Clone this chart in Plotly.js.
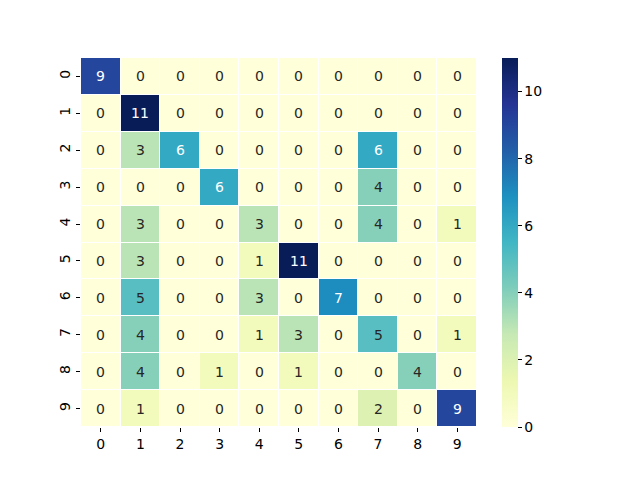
<!DOCTYPE html>
<html><head><meta charset="utf-8">
<script src="https://cdn.plot.ly/plotly-3.0.1.min.js"></script>
<style>html,body{margin:0;padding:0;background:#fff}</style>
</head><body>
<div id="chart" style="width:640px;height:480px"></div>
<script>
const labels = [0,1,2,3,4,5,6,7,8,9];
const matrix = [
  [9,0,0,0,0,0,0,0,0,0],
  [0,11,0,0,0,0,0,0,0,0],
  [0,3,6,0,0,0,0,6,0,0],
  [0,0,0,6,0,0,0,4,0,0],
  [0,3,0,0,3,0,0,4,0,1],
  [0,3,0,0,1,11,0,0,0,0],
  [0,5,0,0,3,0,7,0,0,0],
  [0,4,0,0,1,3,0,5,0,1],
  [0,4,0,1,0,1,0,0,4,0],
  [0,1,0,0,0,0,0,2,0,9]
];
const colorbarTicks = [0,2,4,6,8,10];

const ylgnbu = ['#ffffd9','#edf8b1','#c7e9b4','#7fcdbb','#41b6c4','#1d91c0','#225ea8','#253494','#081d58'];
const colorscale = ylgnbu.map((c,i)=>[i/(ylgnbu.length-1), c]);
const zmax = 11;

const annotations = [];
matrix.forEach((row,i)=>row.forEach((v,j)=>{
  annotations.push({x:labels[j], y:labels[i], text:String(v), showarrow:false,
    font:{family:'DejaVu Sans', size:14, color: v/zmax > 0.5 ? '#ffffff' : '#262626'}});
}));

const font = {family:'DejaVu Sans', size:14, color:'#000'};
Plotly.newPlot('chart', [{
  type:'heatmap', x:labels, y:labels, z:matrix, zmin:0, zmax:zmax,
  colorscale:colorscale, xgap:1, ygap:1, hoverinfo:'skip',
  colorbar:{x:1.063, xanchor:'left', y:0.5, yanchor:'middle', len:1, lenmode:'fraction',
    xpad:0, ypad:0, thickness:16, outlinewidth:0, ticks:'outside', ticklen:4, tickcolor:'#000',
    tickvals:colorbarTicks, tickfont:font}
}], {
  width:640, height:480, margin:{l:81, r:163, t:58, b:53},
  paper_bgcolor:'#fff', plot_bgcolor:'#fff', font:font,
  xaxis:{tickmode:'array', tickvals:labels, ticktext:labels.map(String), ticks:'outside', ticklen:4,
    tickcolor:'#000', showgrid:false, zeroline:false, showline:false, tickfont:font},
  yaxis:{tickmode:'array', tickvals:labels, ticktext:labels.map(String), autorange:'reversed',
    ticks:'outside', ticklen:4, tickcolor:'#000', tickangle:-90, showgrid:false, zeroline:false,
    showline:false, tickfont:font},
  annotations:annotations
}, {displayModeBar:false, staticPlot:true});
</script>
</body></html>
